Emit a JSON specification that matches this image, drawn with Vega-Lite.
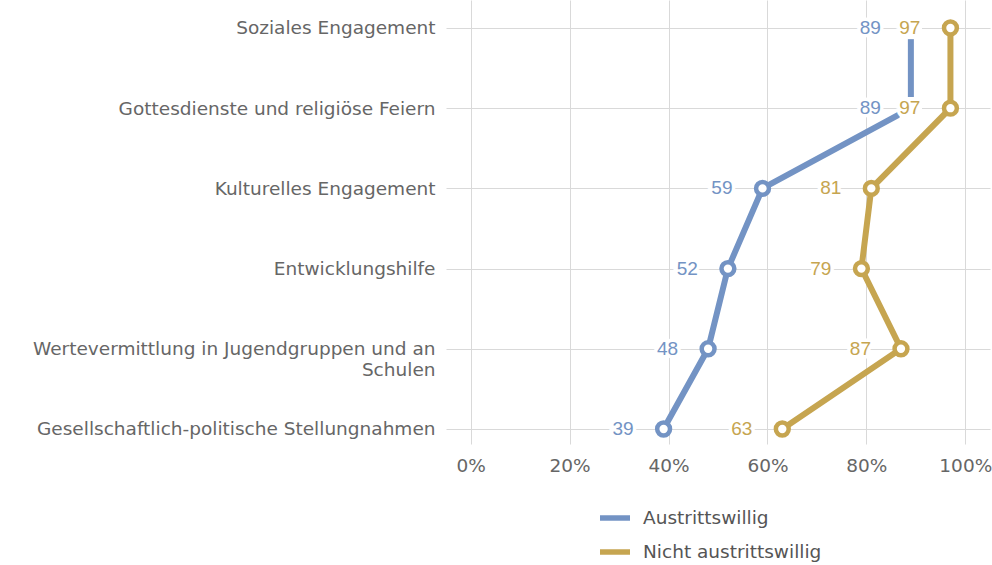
{
  "$schema": "https://vega.github.io/schema/vega-lite/v6.json",
  "width": 544,
  "height": 444,
  "autosize": {"type": "none"},
  "padding": {"left": 446, "top": 0, "right": 2, "bottom": 121},
  "background": "white",
  "config": {
    "view": {"stroke": null},
    "font": "DejaVu Sans",
    "axis": {"gridColor": "#d9d9d9", "gridWidth": 1, "ticks": false, "domain": false, "labelColor": "#666666", "labelFontSize": 18.5, "labelFont": "DejaVu Sans", "labelLimit": 0}
  },
  "data": {
    "values": [
      {"i": 1, "item": "Soziales Engagement", "series": "Austrittswillig", "value": 89},
      {"i": 2, "item": "Gottesdienste und religiöse Feiern", "series": "Austrittswillig", "value": 89},
      {"i": 3, "item": "Kulturelles Engagement", "series": "Austrittswillig", "value": 59},
      {"i": 4, "item": "Entwicklungshilfe", "series": "Austrittswillig", "value": 52},
      {"i": 5, "item": "Wertevermittlung in Jugendgruppen und an Schulen", "series": "Austrittswillig", "value": 48},
      {"i": 6, "item": "Gesellschaftlich-politische Stellungnahmen", "series": "Austrittswillig", "value": 39},
      {"i": 1, "item": "Soziales Engagement", "series": "Nicht austrittswillig", "value": 97},
      {"i": 2, "item": "Gottesdienste und religiöse Feiern", "series": "Nicht austrittswillig", "value": 97},
      {"i": 3, "item": "Kulturelles Engagement", "series": "Nicht austrittswillig", "value": 81},
      {"i": 4, "item": "Entwicklungshilfe", "series": "Nicht austrittswillig", "value": 79},
      {"i": 5, "item": "Wertevermittlung in Jugendgruppen und an Schulen", "series": "Nicht austrittswillig", "value": 87},
      {"i": 6, "item": "Gesellschaftlich-politische Stellungnahmen", "series": "Nicht austrittswillig", "value": 63}
    ]
  },
  "encoding": {
    "y": {
      "field": "item", "type": "nominal",
      "sort": ["Soziales Engagement", "Gottesdienste und religiöse Feiern", "Kulturelles Engagement", "Entwicklungshilfe", "Wertevermittlung in Jugendgruppen und an Schulen", "Gesellschaftlich-politische Stellungnahmen"],
      "scale": {"type": "point", "padding": 0.268, "align": 0.651},
      "axis": {"title": null, "grid": true, "labelPadding": 11, "labelLineHeight": 21,
        "labelExpr": "datum.value == 'Wertevermittlung in Jugendgruppen und an Schulen' ? ['Wertevermittlung in Jugendgruppen und an', 'Schulen'] : datum.value"}
    },
    "x": {
      "field": "value", "type": "quantitative",
      "scale": {"domain": [-5, 105], "nice": false, "zero": false},
      "axis": {"title": null, "values": [0, 20, 40, 60, 80, 100], "labelExpr": "datum.value + '%'", "labelPadding": 12, "grid": true}
    },
    "color": {
      "field": "series", "type": "nominal",
      "scale": {"domain": ["Austrittswillig", "Nicht austrittswillig"], "range": ["#7393c4", "#c6a550"]},
      "legend": {"title": null, "orient": "none", "legendX": 151, "legendY": 500, "direction": "vertical", "symbolType": "stroke", "symbolStrokeWidth": 5.5, "symbolSize": 900, "labelFontSize": 18.5, "labelColor": "#555555", "labelFont": "DejaVu Sans", "labelLimit": 0, "rowPadding": 5, "labelOffset": 10}
    }
  },
  "layer": [
    {"mark": {"type": "line", "strokeWidth": 6}, "encoding": {"order": {"field": "i", "type": "quantitative"}}},
    {
      "transform": [{"filter": "datum.series == 'Austrittswillig' && datum.i <= 2"}],
      "mark": {"type": "point", "shape": "square", "filled": true, "opacity": 1, "size": 500},
      "encoding": {"color": {"value": "white"}}
    },
    {
      "transform": [{"filter": "!(datum.series == 'Austrittswillig' && datum.i <= 2)"}],
      "mark": {"type": "point", "filled": false, "fill": "white", "fillOpacity": 1, "opacity": 1, "strokeWidth": 4.5, "size": 165}
    },
    {
      "mark": {"type": "text", "align": "right", "baseline": "middle", "dx": -30, "font": "Liberation Sans", "fontSize": 19, "stroke": "white", "strokeWidth": 7, "fill": "white"},
      "encoding": {"text": {"field": "value"}, "color": {"value": "white"}}
    },
    {
      "mark": {"type": "text", "align": "right", "baseline": "middle", "dx": -30, "font": "Liberation Sans", "fontSize": 19},
      "encoding": {"text": {"field": "value"}}
    }
  ]
}
